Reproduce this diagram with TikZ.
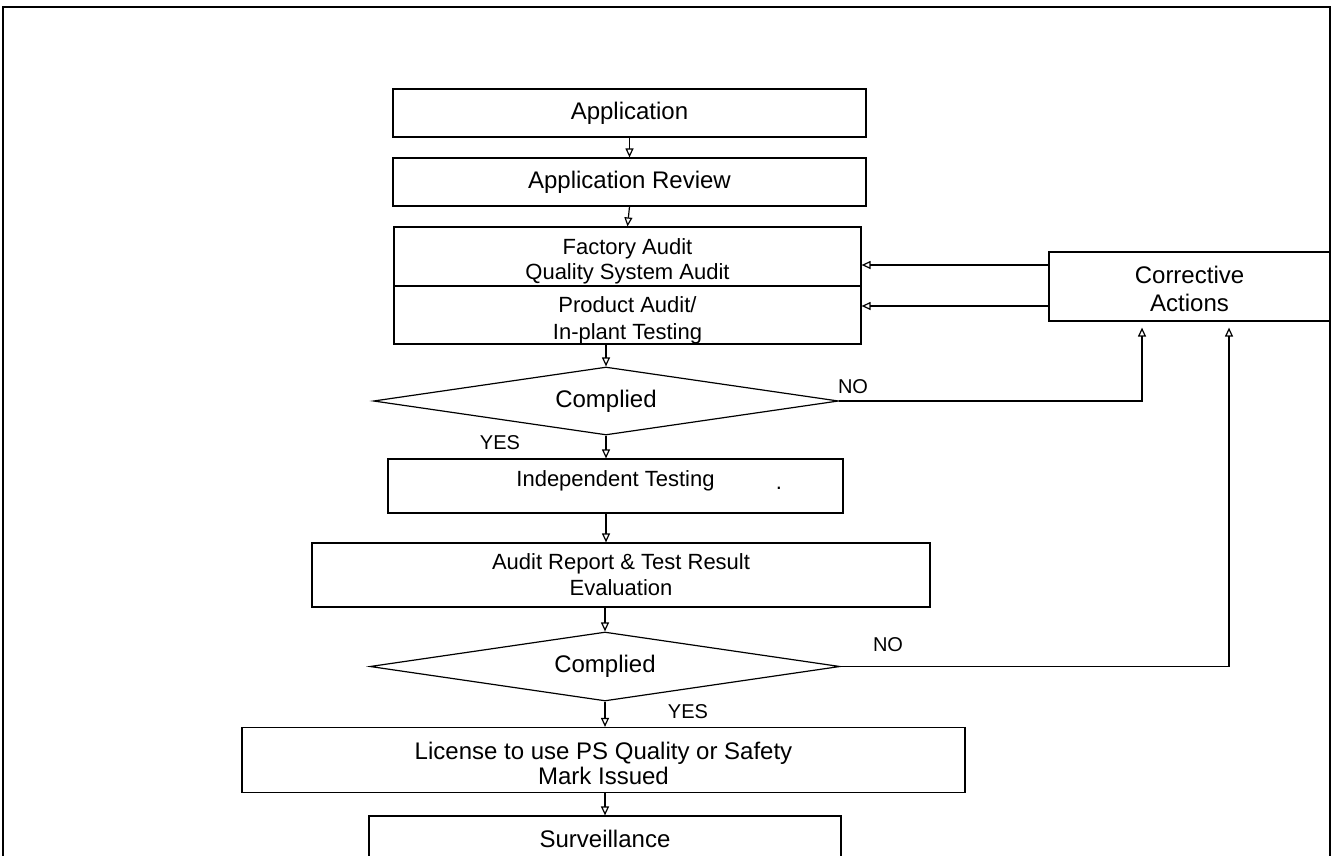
\documentclass[tikz,border=0pt]{standalone}
\usepackage{fontspec}
\setmainfont{Liberation Sans}
\usetikzlibrary{shapes.geometric,arrows.meta}
\begin{document}
\begin{tikzpicture}[x=0.5pt,y=-0.5pt,
  line width=0.6pt,
  every node/.style={inner sep=0pt, align=center},
  boxnode/.style={draw, rectangle},
  decision/.style={draw, diamond, shape aspect=7, inner sep=0pt},
  big/.style={font=\fontsize{12}{14}\selectfont},
  mid/.style={font=\fontsize{11}{13}\selectfont},
  tag/.style={font=\fontsize{10}{12}\selectfont},
  flow/.style={-{Triangle[open,length=4.5pt,width=4pt]}}
]
\useasboundingbox (0,0) rectangle (1333,856);
\clip (0,0) rectangle (1333,856);

% outer frame (runs off the bottom of the page)
\draw (3,880) -- (3,7) -- (1330,7) -- (1330,880);

% process boxes
\node[boxnode, big, minimum width=236.5pt, minimum height=24pt] (app) at (629.5,113) {Application};
\node[boxnode, big, minimum width=236.5pt, minimum height=24pt] (rev) at (629.5,182) {Application Review};

\node[boxnode, minimum width=233.5pt, minimum height=29.5pt] (fa) at (627.5,256.5) {};
\node[mid, font=\fontsize{11}{12.5}\selectfont] (fatext) at ([yshift=-2.25pt]fa.center) {Factory Audit\\Quality System Audit};
\node[boxnode, minimum width=233.5pt, minimum height=29pt] (fb) at (627.5,315) {};
\node[mid, font=\fontsize{11}{13.5}\selectfont] (fbtext) at ([yshift=-2.5pt]fb.center) {Product Audit/\\In-plant Testing};

\node[boxnode, minimum width=140.5pt, minimum height=34.5pt] (ca) at (1189.5,286.5) {};
\node[font=\fontsize{12}{14}\selectfont] (catext) at ([yshift=-1.25pt]ca.center) {Corrective\\Actions};

\node[decision, big, minimum width=232.5pt, minimum height=34pt] (d1) at (606,401) {Complied};

\node[boxnode, minimum width=227.5pt, minimum height=27pt] (indep) at (615.5,486) {};
\node[mid] (indeptext) at ([yshift=2.5pt]indep.center) {Independent Testing};
\node[mid, anchor=base] (stray) at (779,489) {.};

\node[boxnode, mid, minimum width=309pt, minimum height=32pt] (audit) at (621,575) {Audit Report \& Test Result\\Evaluation};

\node[decision, big, minimum width=235pt, minimum height=34.5pt] (d2) at (605,666.5) {Complied};

\node[boxnode, minimum width=361.5pt, minimum height=32.5pt] (lic) at (603.5,760) {};
\node[font=\fontsize{12}{11}\selectfont] (lictext) at ([yshift=-1.75pt]lic.center) {License to use PS Quality or Safety\\Mark Issued};
\node[boxnode, big, minimum width=236pt, minimum height=23pt] (surv) at (605,839) {Surveillance};

% decision labels
\node[tag] (yes1) at (500,443) {YES};
\node[tag] (no1) at (853,387) {NO};
\node[tag] (no2) at (888,645) {NO};
\node[tag] (yes2) at (688,712) {YES};

% main flow
\draw[flow] (app.south) -- (rev.north);
\draw[flow] (rev.south) -- (fa.north);
\draw[flow] (fb.south -| d1.north) -- (d1.north);
\draw[flow] (d1.south) -- (d1.south |- indep.north);
\draw[flow] (d1.south |- indep.south) -- (d1.south |- audit.north);
\draw[flow] (audit.south -| d2.north) -- (d2.north);
\draw[flow] (d2.south) -- (d2.south |- lic.north);
\draw[flow] (d2.south |- lic.south) -- (d2.south |- surv.north);

% NO branches to corrective actions
\coordinate (k1) at (1142,401);
\coordinate (k2) at (1229,667);
\draw[flow, shorten >=3pt] (d1.east) -- (d1.east -| k1) -- (k1 |- ca.south);
\draw[flow, shorten >=3pt] (d2.east) -- (d2.east -| k2) -- (k2 |- ca.south);

% corrective actions feed back into the audits
\coordinate (r1) at (0,265);
\coordinate (r2) at (0,306);
\draw[flow] (ca.west |- r1) -- (fa.east |- r1);
\draw[flow] (ca.west |- r2) -- (fb.east |- r2);
\end{tikzpicture}
\end{document}
